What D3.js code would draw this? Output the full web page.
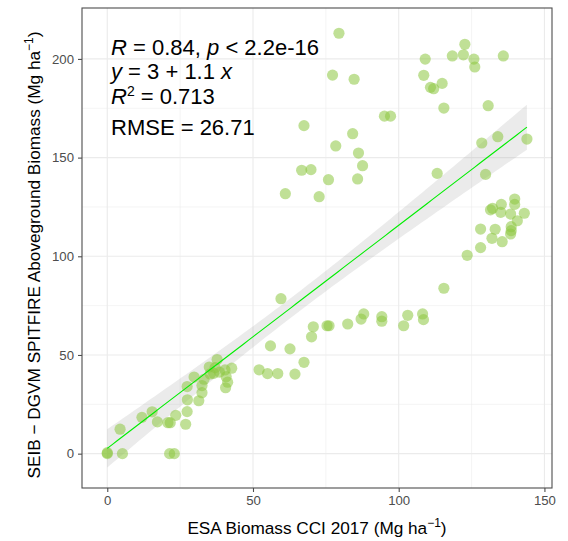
<!DOCTYPE html>
<html>
<head>
<meta charset="utf-8">
<script src="https://cdn.jsdelivr.net/npm/d3@7"></script>
<style>
  body { margin: 0; background: #fff; }
  text { font-family: "Liberation Sans", Arial, sans-serif; }
</style>
</head>
<body>
<div id="chart"></div>
<script>
// ESA Biomass CCI 2017 (x) vs SEIB-DGVM SPITFIRE (y), Mg/ha
var esaBiomass = [
    0, 0, 5.2, 21.4, 23.0, 4.4, 11.9, 15.4, 17.2, 20.8, 21.6, 23.5, 26.9, 27.4, 27.5, 31.4,
    27.4, 29.8, 32.5, 32.5, 33.2, 35.3, 35.0, 37.7, 36.5, 38.5, 37.0, 40.4, 40.8, 41.3, 40.6, 42.7,
    59.6, 56.0, 62.7, 52.1, 55.0, 58.5, 64.4, 67.5, 70.1, 70.7, 75.4, 76.1, 82.5, 88.0, 87.1,
    94.2, 94.2, 103.1, 101.7, 108.2, 108.5, 115.5,
    123.5, 128.1, 135.5, 132.0, 138.4, 138.6, 133.1, 128.1, 138.6, 140.7, 143.1, 138.4, 135.0,
    131.5, 132.2, 139.8, 135.2, 139.8,
    79.5, 77.3, 84.7, 95.1, 97.2, 67.5, 84.2, 78.4, 86.2, 87.6, 66.7, 69.9, 75.9, 85.9, 61.1, 72.7,
    122.7, 109.1, 118.4, 122.2, 125.8, 126.1, 135.9, 108.6, 110.9, 112.0, 114.9, 115.5, 130.7,
    128.5, 134.0, 144.0, 113.2, 129.8
];
var seibBiomass = [
    0.5, 0, 0, 0, 0, 12.4, 18.4, 21.2, 16.1, 15.7, 15.7, 19.4, 14.9, 21.3, 27.3, 26.8,
    34.0, 38.8, 30.9, 34.5, 37.7, 40.4, 43.9, 47.7, 40.7, 41.3, 43.6, 42.4, 39.0, 36.2, 33.4, 43.3,
    78.5, 54.6, 53.1, 42.5, 40.6, 40.6, 40.3, 46.3, 59.2, 64.3, 64.8, 64.8, 65.7, 70.8, 68.2,
    69.4, 67.1, 70.1, 64.8, 70.8, 67.9, 83.8,
    100.5, 104.4, 107.4, 109.1, 111.3, 113.0, 113.7, 113.8, 115.0, 118.0, 121.8, 121.4, 122.3,
    123.5, 124.3, 126.3, 126.3, 129.0,
    213.0, 191.8, 189.7, 171.0, 171.0, 166.2, 162.1, 155.9, 152.3, 145.9, 143.6, 143.9, 138.8, 139.2, 131.7, 130.2,
    207.4, 199.9, 201.5, 202.1, 199.9, 195.9, 201.5, 191.7, 185.6, 184.9, 187.6, 175.1, 176.3,
    157.4, 160.6, 159.4, 142.0, 141.5
];

var xTicks = [0, 50, 100, 150];
var xMinor = [25, 75, 125];
var yTicks = [0, 50, 100, 150, 200];
var yMinor = [25, 75, 125, 175];

// regression line and its confidence band
var fitIntercept = 2.7;
var fitSlope = 1.13;
var bandCenterX = 64.5;   // where the band is narrowest
var bandMinHalf = 5.0;    // half width there
var bandGrowth = 0.129;   // growth of the half width away from the centre

var svgWidth = 568;
var svgHeight = 541;

var panel = { left: 82, right: 552, top: 8, bottom: 488 };

var svg = d3.select("#chart")
    .append("svg")
    .attr("width", svgWidth)
    .attr("height", svgHeight);

var xScale = d3.scaleLinear()
    .domain([-8.67, 152.6])
    .range([panel.left, panel.right]);

var yScale = d3.scaleLinear()
    .domain([-17.4, 225.8])
    .range([panel.bottom, panel.top]);

var points = esaBiomass.map(function(x, i) {
    return { x: x, y: seibBiomass[i] };
});

// grid
var grid = svg.append("g");
grid.selectAll(".xminor").data(xMinor).enter().append("line")
    .attr("x1", d => xScale(d)).attr("x2", d => xScale(d))
    .attr("y1", panel.top).attr("y2", panel.bottom)
    .attr("stroke", "#ebebeb").attr("stroke-width", 0.55);
grid.selectAll(".yminor").data(yMinor).enter().append("line")
    .attr("y1", d => yScale(d)).attr("y2", d => yScale(d))
    .attr("x1", panel.left).attr("x2", panel.right)
    .attr("stroke", "#ebebeb").attr("stroke-width", 0.55);
grid.selectAll(".xmajor").data(xTicks).enter().append("line")
    .attr("x1", d => xScale(d)).attr("x2", d => xScale(d))
    .attr("y1", panel.top).attr("y2", panel.bottom)
    .attr("stroke", "#ebebeb").attr("stroke-width", 1.1);
grid.selectAll(".ymajor").data(yTicks).enter().append("line")
    .attr("y1", d => yScale(d)).attr("y2", d => yScale(d))
    .attr("x1", panel.left).attr("x2", panel.right)
    .attr("stroke", "#ebebeb").attr("stroke-width", 1.1);

// fit + band over the data's x range
var xExt = d3.extent(points, d => d.x);
var fitX = d3.range(0, 81).map(i => xExt[0] + (xExt[1] - xExt[0]) * i / 80);
var fit = fitX.map(function(x) {
    var yh = fitIntercept + fitSlope * x;
    var dx = x - bandCenterX;
    var hw = Math.sqrt(bandMinHalf * bandMinHalf + bandGrowth * bandGrowth * dx * dx);
    return { x: x, y: yh, lo: yh - hw, hi: yh + hw };
});

svg.append("path")
    .datum(fit)
    .attr("d", d3.area().x(d => xScale(d.x)).y0(d => yScale(d.lo)).y1(d => yScale(d.hi)))
    .attr("fill", "#999999")
    .attr("fill-opacity", 0.2);

// points
svg.selectAll("circle")
    .data(points)
    .enter()
    .append("circle")
    .attr("cx", d => xScale(d.x))
    .attr("cy", d => yScale(d.y))
    .attr("r", 5.6)
    .attr("fill", "#8cc63f")
    .attr("fill-opacity", 0.55);

svg.append("path")
    .datum(fit)
    .attr("d", d3.line().x(d => xScale(d.x)).y(d => yScale(d.y)))
    .attr("fill", "none")
    .attr("stroke", "#00ee00")
    .attr("stroke-width", 1.1);

// panel border
svg.append("rect")
    .attr("x", panel.left).attr("y", panel.top)
    .attr("width", panel.right - panel.left)
    .attr("height", panel.bottom - panel.top)
    .attr("fill", "none")
    .attr("stroke", "#4d4d4d")
    .attr("stroke-width", 1.1);

// axes
var xAxis = d3.axisBottom(xScale).tickValues(xTicks).tickSize(4).tickPadding(4);
var yAxis = d3.axisLeft(yScale).tickValues(yTicks).tickSize(4).tickPadding(4);

var gx = svg.append("g")
    .attr("transform", `translate(0, ${panel.bottom})`)
    .call(xAxis);
var gy = svg.append("g")
    .attr("transform", `translate(${panel.left}, 0)`)
    .call(yAxis);

[gx, gy].forEach(function(g) {
    g.select(".domain").remove();
    g.selectAll(".tick line").attr("stroke", "#4d4d4d").attr("stroke-width", 1.1);
    g.selectAll(".tick text")
        .attr("fill", "#4d4d4d")
        .style("font-size", "13.2px")
        .style("font-family", "'Liberation Sans', Arial, sans-serif");
});

// axis titles
var xTitle = svg.append("text")
    .attr("x", (panel.left + panel.right) / 2)
    .attr("y", 534)
    .attr("text-anchor", "middle")
    .style("font-size", "17.2px")
    .attr("fill", "#000");
xTitle.append("tspan").text("ESA Biomass CCI 2017 (Mg ha");
xTitle.append("tspan").attr("dy", -7).style("font-size", "12px").text("\u22121");
xTitle.append("tspan").attr("dy", 7).text(")");

var yTitle = svg.append("text")
    .attr("transform", "translate(40, 255) rotate(-90)")
    .attr("text-anchor", "middle")
    .style("font-size", "17.2px")
    .attr("fill", "#000");
yTitle.append("tspan").text("SEIB \u2212 DGVM SPITFIRE Aboveground Biomass (Mg ha");
yTitle.append("tspan").attr("dy", -7).style("font-size", "12px").text("\u22121");
yTitle.append("tspan").attr("dy", 7).text(")");

// annotation
var annoX = 111;
var anno = svg.append("g").style("font-size", "22px").attr("fill", "#000");

var l1 = anno.append("text").attr("x", annoX).attr("y", 55);
l1.append("tspan").style("font-style", "italic").text("R");
l1.append("tspan").text(" = 0.84, ");
l1.append("tspan").style("font-style", "italic").text("p");
l1.append("tspan").text(" < 2.2e-16");

var l2 = anno.append("text").attr("x", annoX).attr("y", 79);
l2.append("tspan").style("font-style", "italic").text("y");
l2.append("tspan").text(" = 3 + 1.1 ");
l2.append("tspan").style("font-style", "italic").text("x");

var l3 = anno.append("text").attr("x", annoX).attr("y", 104);
l3.append("tspan").style("font-style", "italic").text("R");
l3.append("tspan").attr("dy", -8).style("font-size", "14px").text("2");
l3.append("tspan").attr("dy", 8).text(" = 0.713");

anno.append("text").attr("x", annoX).attr("y", 135).text("RMSE = 26.71");
</script>
</body>
</html>
